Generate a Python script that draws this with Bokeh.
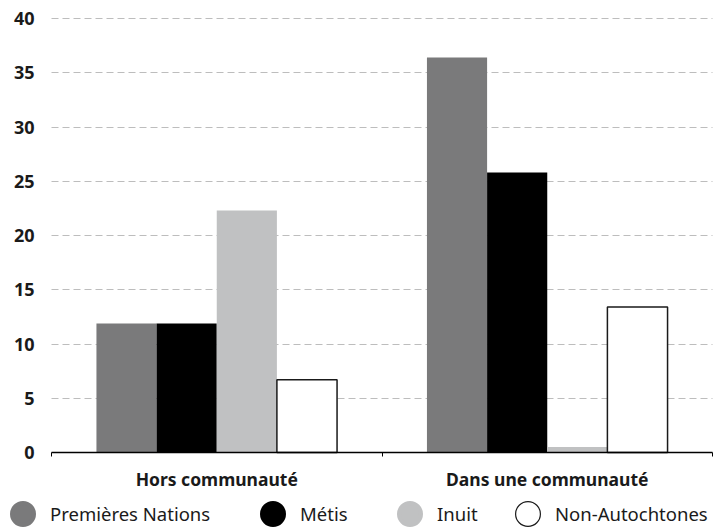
from bokeh.plotting import figure
from bokeh.models import (ColumnDataSource, Range1d, FixedTicker, Legend, LegendItem,
                          LinearAxis, Grid)
from bokeh.embed import file_html
from bokeh.resources import INLINE

# ---- data ----
categories = ["Hors communauté", "Dans une communauté"]
series_names = ["Premières Nations", "Métis", "Inuit", "Non-Autochtones"]
premieres_nations = [11.9, 36.4]
metis = [11.9, 25.8]
inuit = [22.3, 0.5]
non_autochtones = [6.7, 13.4]
y_ticks = [0, 5, 10, 15, 20, 25, 30, 35, 40]

# ---- layout / style ----
W, H = 714, 529
plot_left, plot_right, plot_top, plot_bottom = 51, 712, 18, 452   # px of the data area
y_max = 40
fills = ["#7a7a7b", "#000000", "#c0c1c2", "#ffffff"]
bar_lines = [None, None, None, "#1a1a1a"]
offsets = [-0.273, -0.091, 0.091, 0.273]
bar_w = 0.182
FONT = "Noto Sans"
# legend item placement (px from the canvas' left / bottom)
legend_x = [-5, 245, 382, 500]
legend_y = -12
legend_glyph = 55          # legend circle = 0.4 * 55 = 22 px (+ outline width)

n_cat = len(categories)
xs = [i + 0.5 for i in range(n_cat)]
values = [premieres_nations, metis, inuit, non_autochtones]

# the frame covers the whole canvas; ranges are padded so that the data area
# [0, n_cat] x [0, y_max] lands on plot_left..plot_right / plot_bottom..plot_top
xpx = (plot_right - plot_left) / n_cat
ypx = (plot_bottom - plot_top) / y_max
x_range = Range1d(-plot_left / xpx, n_cat + (W - plot_right) / xpx)
y_range = Range1d(-(H - plot_bottom) / ypx, y_max + plot_top / ypx)

p = figure(width=W, height=H, output_backend="svg", toolbar_location=None,
           x_range=x_range, y_range=y_range, x_axis_type=None, y_axis_type=None,
           min_border=0, min_border_left=0, min_border_right=0,
           min_border_top=0, min_border_bottom=0)
p.outline_line_color = None
p.background_fill_color = "white"
p.border_fill_color = "white"
p.grid.visible = False

sources = []
for name, vals, fc, lc, off in zip(series_names, values, fills, bar_lines, offsets):
    src = ColumnDataSource(dict(x=[x + off for x in xs], top=vals))
    sources.append(src)
    p.vbar(x="x", top="top", bottom=0, width=bar_w, source=src,
           fill_color=fc, line_color=lc, line_width=1.5 if lc else 0)

# y axis (drawn at x = 0)
yaxis = LinearAxis(ticker=FixedTicker(ticks=y_ticks), fixed_location=0,
                   bounds=(0, y_max))
yaxis.axis_line_color = None
yaxis.major_tick_line_color = None
yaxis.major_tick_out = 0
yaxis.major_tick_in = 0
yaxis.minor_tick_line_color = None
yaxis.major_label_standoff = 17
yaxis.major_label_text_font = FONT
yaxis.major_label_text_font_style = "bold"
yaxis.major_label_text_font_size = "18px"
yaxis.major_label_text_color = "#1a1a1a"
p.add_layout(yaxis, "left")

# x axis (drawn at y = 0)
xaxis = LinearAxis(ticker=FixedTicker(ticks=xs, minor_ticks=list(range(n_cat + 1))),
                   fixed_location=0, bounds=(0, n_cat))
xaxis.major_label_overrides = {x: c for x, c in zip(xs, categories)}
xaxis.axis_line_color = "#000000"
xaxis.axis_line_width = 1.5
xaxis.major_tick_line_color = None
xaxis.major_tick_out = 0
xaxis.major_tick_in = 0
xaxis.minor_tick_line_color = "#000000"
xaxis.minor_tick_out = 4
xaxis.minor_tick_in = 0
xaxis.major_label_standoff = 10
xaxis.major_label_text_font = FONT
xaxis.major_label_text_font_style = "bold"
xaxis.major_label_text_font_size = "17.5px"
xaxis.major_label_text_color = "#1a1a1a"
p.add_layout(xaxis, "below")

# horizontal dashed grid lines
ygrid = Grid(dimension=1, ticker=FixedTicker(ticks=y_ticks[1:]), axis=yaxis)
ygrid.grid_line_color = "#bdbdbd"
ygrid.grid_line_dash = "7 4"
ygrid.grid_line_width = 1
ygrid.level = "underlay"
if "cross_bounds" in Grid.properties():
    ygrid.cross_bounds = (0, n_cat)
p.add_layout(ygrid)

# ---- legend below the chart: one item per series ----
# zero-size markers on the series' own points (invisible in the plot, behind the
# bars) that give the legend its round swatches
def legend_marker(src, fill, line, lw):
    return p.scatter(x="x", y="top", source=src, size=0, level="underlay",
                     marker="circle", fill_color=fill, line_color=line,
                     line_width=lw)

for name, fc, src, lx in zip(series_names, fills, sources, legend_x):
    if fc == "#ffffff":
        rends = [legend_marker(src, "#1a1a1a", "#1a1a1a", 4),
                 legend_marker(src, "#ffffff", "#ffffff", 1.6)]
    else:
        rends = [legend_marker(src, fc, fc, 4)]
    lg = Legend(items=[LegendItem(label=name, renderers=rends)],
                location=(lx, legend_y), orientation="horizontal",
                glyph_width=legend_glyph, glyph_height=legend_glyph,
                label_standoff=0, padding=0, margin=0, spacing=0,
                border_line_color=None, background_fill_alpha=0,
                label_text_font=FONT, label_text_font_size="18.5px",
                label_text_color="#1a1a1a")
    p.add_layout(lg, "center")

open("out.html", "w").write(file_html(p, INLINE))
